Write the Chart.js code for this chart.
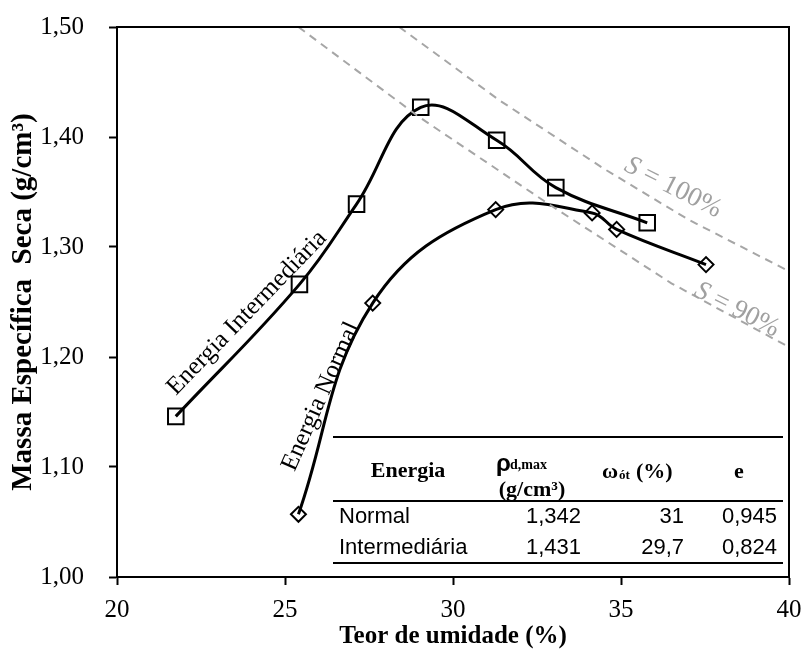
<!DOCTYPE html>
<html>
<head>
<meta charset="utf-8">
<script src="https://cdn.jsdelivr.net/npm/chart.js@4.4.1/dist/chart.umd.min.js"></script>
<style>
  html, body { margin: 0; padding: 0; background: #fff; }
  #wrap { width: 807px; height: 653px; position: relative; }
</style>
</head>
<body>
<div id="wrap"><canvas id="chart"></canvas></div>
<script>
// =====================================
// Data
// =====================================

const interX = [21.75, 25.43, 27.13, 29.04, 31.30, 33.06, 35.78];
const interY = [1.146, 1.266, 1.339, 1.427, 1.397, 1.354, 1.322];

const normalX = [25.40, 27.61, 31.27, 34.14, 34.87, 37.53];
const normalY = [1.057, 1.249, 1.334, 1.331, 1.316, 1.284];

const sat100X = [28.4, 31.4, 34.5, 37.0, 40.0];
const sat100Y = [1.500, 1.433, 1.371, 1.325, 1.278];

const sat90X = [25.4, 29.0, 32.8, 36.5, 40.0];
const sat90Y = [1.500, 1.418, 1.340, 1.267, 1.209];

const xTicks = [20, 25, 30, 35, 40];
const yTicks = [1.00, 1.10, 1.20, 1.30, 1.40, 1.50];

const tableRows = [
    ["Normal", "1,342", "31", "0,945"],
    ["Intermediária", "1,431", "29,7", "0,824"]
];

// =====================================
// Helpers
// =====================================

const SERIF = "'Liberation Serif', 'Times New Roman', serif";
const SANS = "'Liberation Sans', Arial, sans-serif";

function toPoints(xs, ys) {
    return xs.map((x, i) => ({ x: x, y: ys[i] }));
}

function comma(v, d) {
    return v.toFixed(d).replace(".", ",");
}

// label placement (data units) and rotation
const curveLabels = [
    { text: "Energia Intermediária", x: 23.87, y: 1.240, angle: -46 },
    { text: "Energia Normal", x: 26.07, y: 1.164, angle: -66 }
];

const satLabels = [
    { rest: " = 100%", x: 36.55, y: 1.354, angle: 27 },
    { rest: " = 90%", x: 38.45, y: 1.243, angle: 27 }
];

// =====================================
// Overlay: frame, labels, table
// =====================================

const overlay = {
    id: "overlay",
    afterDraw(chart) {
        const ctx = chart.ctx;
        const ca = chart.chartArea;
        const sx = chart.scales.x;
        const sy = chart.scales.y;

        ctx.save();

        // top + right frame
        ctx.strokeStyle = "#000";
        ctx.lineWidth = 2;
        ctx.beginPath();
        ctx.moveTo(ca.left, ca.top);
        ctx.lineTo(ca.right, ca.top);
        ctx.lineTo(ca.right, ca.bottom);
        ctx.stroke();

        // curve labels
        ctx.fillStyle = "#000";
        ctx.font = "25px " + SERIF;
        ctx.textAlign = "center";
        ctx.textBaseline = "middle";
        curveLabels.forEach(l => {
            ctx.save();
            ctx.translate(sx.getPixelForValue(l.x), sy.getPixelForValue(l.y));
            ctx.rotate(l.angle * Math.PI / 180);
            ctx.fillText(l.text, 0, 0);
            ctx.restore();
        });

        // saturation labels
        ctx.fillStyle = "#a0a0a0";
        satLabels.forEach(l => {
            ctx.save();
            ctx.translate(sx.getPixelForValue(l.x), sy.getPixelForValue(l.y));
            ctx.rotate(l.angle * Math.PI / 180);
            ctx.font = "italic 27px " + SERIF;
            const wS = ctx.measureText("S").width;
            ctx.font = "27px " + SERIF;
            const wR = ctx.measureText(l.rest).width;
            const x0 = -(wS + wR) / 2;
            ctx.textAlign = "left";
            ctx.font = "italic 27px " + SERIF;
            ctx.fillText("S", x0, 0);
            ctx.font = "27px " + SERIF;
            ctx.fillText(l.rest, x0 + wS, 0);
            ctx.restore();
        });

        // ---------------- Table ----------------
        const tl = ca.right - 456;
        const tr = ca.right - 6;
        const b = ca.bottom;

        ctx.strokeStyle = "#000";
        ctx.lineWidth = 2;
        [b - 140, b - 76, b - 14].forEach(y => {
            ctx.beginPath();
            ctx.moveTo(tl, y);
            ctx.lineTo(tr, y);
            ctx.stroke();
        });

        ctx.fillStyle = "#000";
        ctx.textBaseline = "middle";

        // header
        ctx.textAlign = "center";
        ctx.font = "bold 22px " + SERIF;
        ctx.fillText("Energia", ca.left + 291, b - 106);
        ctx.fillText("(g/cm³)", ca.left + 415, b - 87);
        ctx.fillText("e", ca.left + 622, b - 105);

        ctx.textAlign = "left";
        ctx.font = "bold 24px " + SANS;
        ctx.fillText("ρ", ca.left + 379, b - 113);
        ctx.font = "bold 14px " + SERIF;
        ctx.fillText("d,max", ca.left + 393, b - 112);

        ctx.font = "bold 22px " + SERIF;
        ctx.fillText("ω", ca.left + 485, b - 105);
        ctx.font = "bold 13px " + SERIF;
        ctx.fillText("ót", ca.left + 502, b - 101);
        ctx.font = "bold 22px " + SERIF;
        ctx.fillText("(%)", ca.left + 519, b - 105);

        // body
        ctx.font = "22px " + SANS;
        const rightEdges = [ca.left + 464, ca.left + 567, ca.left + 660];
        tableRows.forEach((row, r) => {
            const y = b - 60 + r * 31;
            ctx.textAlign = "left";
            ctx.fillText(row[0], ca.left + 222, y);
            ctx.textAlign = "right";
            for (let c = 1; c < row.length; c++) {
                ctx.fillText(row[c], rightEdges[c - 1], y);
            }
        });

        ctx.restore();
    }
};

// =====================================
// Chart
// =====================================

const chart = new Chart(document.getElementById("chart"), {
    type: "scatter",
    data: {
        datasets: [
            {
                data: toPoints(sat100X, sat100Y),
                showLine: true,
                borderColor: "#a6a6a6",
                borderWidth: 2,
                borderDash: [8, 6],
                pointRadius: 0,
                tension: 0
            },
            {
                data: toPoints(sat90X, sat90Y),
                showLine: true,
                borderColor: "#a6a6a6",
                borderWidth: 2,
                borderDash: [8, 6],
                pointRadius: 0,
                tension: 0
            },
            {
                data: toPoints(interX, interY),
                showLine: true,
                borderColor: "#000",
                borderWidth: 3,
                tension: 0.4,
                pointStyle: "rect",
                pointRadius: 11,
                pointBorderWidth: 2,
                pointBorderColor: "#000",
                pointBackgroundColor: "rgba(0,0,0,0)"
            },
            {
                data: toPoints(normalX, normalY),
                showLine: true,
                borderColor: "#000",
                borderWidth: 3,
                tension: 0.4,
                pointStyle: "rectRot",
                pointRadius: 7.5,
                pointBorderWidth: 2,
                pointBorderColor: "#000",
                pointBackgroundColor: "rgba(0,0,0,0)"
            }
        ]
    },
    options: {
        responsive: true,
        maintainAspectRatio: false,
        animation: false,
        layout: {
            padding: { top: 27, right: 18, left: 0, bottom: 0 }
        },
        plugins: {
            legend: { display: false },
            tooltip: { enabled: false }
        },
        scales: {
            x: {
                type: "linear",
                min: 20,
                max: 40,
                afterBuildTicks: s => { s.ticks = xTicks.map(v => ({ value: v })); },
                afterFit: s => {
                    s.height = 76;
                    s.paddingLeft = 0;
                    s.paddingRight = 0;
                },
                ticks: {
                    color: "#000",
                    font: { family: SERIF, size: 25 },
                    padding: 10,
                    maxRotation: 0,
                    callback: v => String(v)
                },
                grid: {
                    drawOnChartArea: false,
                    drawTicks: true,
                    tickLength: 8,
                    tickColor: "#000",
                    tickWidth: 2
                },
                border: { display: true, color: "#000", width: 2 },
                title: {
                    display: true,
                    text: "Teor de umidade (%)",
                    color: "#000",
                    font: { family: SERIF, size: 25, weight: "bold" },
                    padding: { top: 0, bottom: 1 }
                }
            },
            y: {
                type: "linear",
                min: 1.0,
                max: 1.5,
                afterBuildTicks: s => { s.ticks = yTicks.map(v => ({ value: v })); },
                afterFit: s => {
                    s.width = 117;
                    s.paddingTop = 0;
                    s.paddingBottom = 0;
                },
                ticks: {
                    color: "#000",
                    font: { family: SERIF, size: 25 },
                    padding: 25,
                    callback: v => comma(v, 2)
                },
                grid: {
                    drawOnChartArea: false,
                    drawTicks: true,
                    tickLength: 8,
                    tickColor: "#000",
                    tickWidth: 2
                },
                border: { display: true, color: "#000", width: 2 },
                title: {
                    display: true,
                    text: "Massa Específica  Seca (g/cm³)",
                    color: "#000",
                    font: { family: SERIF, size: 29, weight: "bold" },
                    padding: { top: 6, bottom: 0 }
                }
            }
        }
    },
    plugins: [overlay]
});
</script>
</body>
</html>
